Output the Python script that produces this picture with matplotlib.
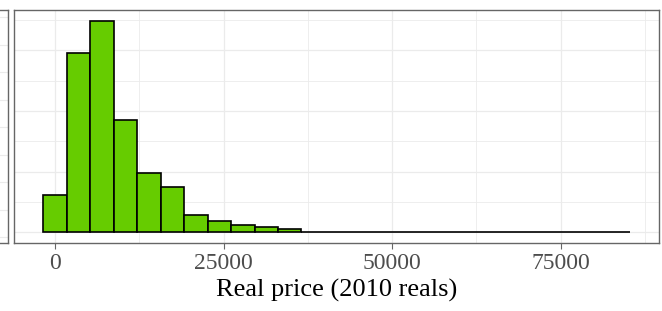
import numpy as np
import matplotlib
matplotlib.use("Agg")
import matplotlib.pyplot as plt

GREEN, EDGE, FRAME, GRID, TICK = "#66CC00", "#000000", "#666666", "#EBEBEB", "#4D4D4D"

# histogram of real prices, bin width ~3480 reals, first bin centred at 0
BIN_W = 3480
counts = [613, 2960, 3492, 1847, 987, 750, 290, 191, 125, 92, 49,
          12, 8, 2, 5, 2, 1, 4, 1, 4, 1, 1, 2, 4, 3]
centers = np.arange(len(counts)) * BIN_W
xticks = [0, 25000, 50000, 75000]
xminor = [12500, 37500, 62500, 87500]

fig = plt.figure(figsize=(6.62, 3.11), dpi=100)
W, H = 662, 311

# sliver of the neighbouring panel on the left edge
axl = fig.add_axes([-0.1, (H - 243) / H, 0.1 + 8 / W, 233 / H])
axl.set_xlim(0, 1); axl.set_ylim(0, 233)
for yy in np.arange(6, 233, 27.5):
    axl.axhline(yy, color=GRID, lw=0.8, zorder=0)
axl.set_xticks([]); axl.set_yticks([])
for s in axl.spines.values():
    s.set_color(FRAME); s.set_linewidth(1.0)

ax = fig.add_axes([14 / W, (H - 243) / H, (659.3 - 14) / W, 233 / H])
ax.bar(centers, counts, width=BIN_W, color=GREEN, edgecolor=EDGE, linewidth=1.2, zorder=3)

lo, hi = centers[0] - BIN_W / 2, centers[-1] + BIN_W / 2
pad = 0.05 * (hi - lo)
ax.set_xlim(lo - pad, hi + pad)
ymax = max(counts)
ax.set_ylim(-0.05 * ymax, 1.05 * ymax)

for v in xticks + xminor:
    ax.axvline(v, color=GRID, lw=0.9 if v in xticks else 0.6, zorder=0)
for v in np.arange(0, 3600, 500):
    ax.axhline(v, color=GRID, lw=0.9 if v % 1000 == 0 else 0.6, zorder=0)

ax.set_xticks(xticks)
ax.set_xticklabels([str(t) for t in xticks], family="Liberation Serif", fontsize=17, color=TICK)
ax.set_yticks([])
ax.tick_params(axis="x", length=4, width=0.8, color=FRAME, pad=3)
ax.set_xlabel("Real price (2010 reals)", family="Liberation Serif", fontsize=19, color="black", labelpad=4)
for s in ax.spines.values():
    s.set_color(FRAME); s.set_linewidth(1.0)

fig.savefig("out.png", dpi=100, facecolor="white")
